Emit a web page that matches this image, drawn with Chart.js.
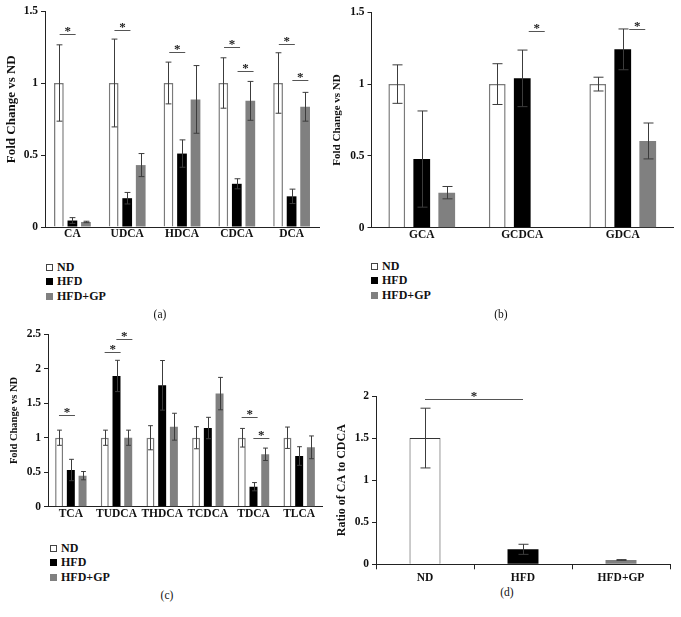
<!DOCTYPE html>
<html>
<head>
<meta charset="utf-8">
<script src="https://cdn.jsdelivr.net/npm/chart.js@4.4.0/dist/chart.umd.min.js"></script>
<style>
  body { margin:0; background:#fff; width:681px; height:617px; position:relative; overflow:hidden;
         font-family:"Liberation Serif","Times New Roman",serif; color:#111; }
  canvas { position:absolute; }
  .leg { position:absolute; font-weight:bold; font-size:12px; line-height:14.4px; }
  .leg div { white-space:nowrap; height:14.4px; }
  .sw { display:inline-block; width:7px; height:7px; box-sizing:border-box; margin-right:4px; vertical-align:0; }
  .cap { position:absolute; font-size:11.5px; transform:translate(-50%,-50%); }
</style>
</head>
<body>
<canvas id="chartA" width="330" height="246" style="left:0;top:0"></canvas>
<canvas id="chartB" width="354" height="247" style="left:327px;top:0"></canvas>
<canvas id="chartC" width="326" height="205" style="left:4px;top:320px"></canvas>
<canvas id="chartD" width="350" height="205" style="left:331px;top:380px"></canvas>

<div class="leg" id="legA" style="left:46px;top:260px"></div>
<div class="leg" id="legB" style="left:371px;top:259px"></div>
<div class="leg" id="legC" style="left:50px;top:541px"></div>
<div class="cap" style="left:160px;top:314px">(a)</div>
<div class="cap" style="left:501px;top:314px">(b)</div>
<div class="cap" style="left:167px;top:595px">(c)</div>
<div class="cap" style="left:507px;top:592px">(d)</div>

<script>
// groups
const groups = ['ND', 'HFD', 'HFD+GP'];
const groupColors = ['#ffffff', '#000000', '#808080'];

// (a) unconjugated bile acids
const catsA = ['CA', 'UDCA', 'HDCA', 'CDCA', 'DCA'];
const ndA = [1, 1, 1, 1, 1];
const ndErrA = [0.265, 0.305, 0.145, 0.175, 0.21];
const hfdA = [0.045, 0.2, 0.51, 0.3, 0.213];
const hfdErrA = [0.02, 0.04, 0.095, 0.035, 0.05];
const gpA = [0.035, 0.43, 0.886, 0.876, 0.835];
const gpErrA = [0.005, 0.08, 0.235, 0.135, 0.1];
// [category, from group, to group, level]
const sigA = [[0, 0, 1, 1.338], [1, 0, 1, 1.368], [2, 0, 1, 1.213], [3, 0, 1, 1.247], [3, 1, 2, 1.085], [4, 0, 1, 1.273], [4, 1, 2, 1.02]];

// (b) glycine conjugates
const catsB = ['GCA', 'GCDCA', 'GDCA'];
const ndB = [1, 1, 1];
const ndErrB = [0.134, 0.142, 0.048];
const hfdB = [0.478, 1.04, 1.242];
const hfdErrB = [0.335, 0.197, 0.142];
const gpB = [0.244, null, 0.604];
const gpErrB = [0.043, 0, 0.125];
const sigB = [[1, 1, 2, 1.37], [2, 1, 2, 1.385]];

// (c) taurine conjugates
const catsC = ['TCA', 'TUDCA', 'THDCA', 'TCDCA', 'TDCA', 'TLCA'];
const ndC = [1, 1, 1, 1, 1, 1];
const ndErrC = [0.11, 0.11, 0.175, 0.16, 0.135, 0.155];
const hfdC = [0.532, 1.896, 1.76, 1.141, 0.29, 0.735];
const hfdErrC = [0.155, 0.227, 0.36, 0.155, 0.06, 0.135];
const gpC = [0.45, 1.0, 1.16, 1.64, 0.76, 0.861];
const gpErrC = [0.06, 0.11, 0.195, 0.235, 0.09, 0.165];
const sigC = [[0, 0, 1, 1.335], [1, 0, 1, 2.239], [1, 1, 2, 2.427], [4, 0, 1, 1.296], [4, 1, 2, 0.991]];

// (d) CA / CDCA ratio
const catsD = ['ND', 'HFD', 'HFD+GP'];
const ratioD = [1.5, 0.178, 0.051];
const ratioErrD = [0.355, 0.06, 0.005];
// [from category, to category, level]
const sigD = [[0, 1, 1.964]];

const FONT = '"Liberation Serif", "Times New Roman", serif';
Chart.defaults.font.family = FONT;
Chart.defaults.color = '#111';
Chart.defaults.animation = false;

const errorBars = {
  id: 'errorBars',
  afterDatasetsDraw(chart) {
    const ctx = chart.ctx, y = chart.scales.y;
    ctx.save();
    ctx.strokeStyle = '#3c3c3c';
    ctx.lineWidth = 1;
    chart.data.datasets.forEach((ds, i) => {
      chart.getDatasetMeta(i).data.forEach((bar, j) => {
        const v = ds.data[j], e = ds.errors ? ds.errors[j] : 0;
        if (v == null || !e) return;
        const x = Math.round(bar.x) + 0.5;
        const top = y.getPixelForValue(v + e), bot = y.getPixelForValue(v - e);
        const cap = Math.min(bar.width * 0.6, 10) / 2;
        ctx.beginPath();
        ctx.moveTo(x, top); ctx.lineTo(x, bot);
        ctx.moveTo(x - cap, top); ctx.lineTo(x + cap, top);
        ctx.moveTo(x - cap, bot); ctx.lineTo(x + cap, bot);
        ctx.stroke();
      });
    });
    ctx.restore();
  }
};

// significance bar + star; len = fixed line length, or null for full span
function sigPlugin(marks, resolve, len) {
  return {
    id: 'sig',
    afterDatasetsDraw(chart) {
      const ctx = chart.ctx, y = chart.scales.y;
      ctx.save();
      marks.forEach(m => {
        const [xa, xb, level] = resolve(chart, m);
        const yy = Math.round(y.getPixelForValue(level)) + 0.5;
        let x1 = xa, x2 = xb;
        if (len) { const c = (xa + xb) / 2 + 2; x1 = c - len / 2; x2 = c + len / 2; }
        ctx.strokeStyle = '#555';
        ctx.lineWidth = 1;
        ctx.beginPath(); ctx.moveTo(x1, yy); ctx.lineTo(x2, yy); ctx.stroke();
        ctx.fillStyle = '#222';
        ctx.font = 'bold 13px ' + FONT;
        ctx.textAlign = 'center';
        ctx.textBaseline = 'alphabetic';
        ctx.fillText('*', (x1 + x2) / 2, yy + 0.5);
      });
      ctx.restore();
    }
  };
}
const byGroup = (chart, m) => [chart.getDatasetMeta(m[1]).data[m[0]].x, chart.getDatasetMeta(m[2]).data[m[0]].x, m[3]];
const byCat = (chart, m) => [chart.getDatasetMeta(0).data[m[0]].x, chart.getDatasetMeta(0).data[m[1]].x, m[2]];

function scales(o) {
  return {
    x: {
      grid: { display: true, drawOnChartArea: false, drawTicks: !!o.xTicks, tickLength: 5, offset: true, color: '#222' },
      border: { color: '#222', width: 1 },
      ticks: { font: { size: 11.5, weight: 'bold' }, padding: o.xPad, maxRotation: 0, autoSkip: false },
      afterFit: s => { s.height = o.xH; }
    },
    y: {
      min: 0, max: o.max,
      ticks: { stepSize: 0.5, font: { size: 11.5, weight: 'bold' }, padding: 3, callback: v => String(+v.toFixed(1)) },
      grid: { drawOnChartArea: false, tickLength: 4, color: '#222' },
      border: { color: '#222', width: 1 },
      title: { display: true, text: o.title, font: { size: o.titleSize, weight: 'bold' }, padding: { top: 4, bottom: 0 } },
      afterFit: s => { s.width = o.yW; }
    }
  };
}

function groupChart(id, cats, series, errs, o, sig) {
  new Chart(document.getElementById(id), {
    type: 'bar',
    data: {
      labels: cats,
      datasets: series.map((d, i) => ({
        label: groups[i], data: d, errors: errs[i],
        backgroundColor: groupColors[i],
        borderColor: i === 0 ? '#7a7a7a' : groupColors[i],
        borderWidth: i === 0 ? 1.5 : 0,
        categoryPercentage: o.catPct, barPercentage: o.barPct
      }))
    },
    options: {
      responsive: false,
      layout: { padding: { top: o.padTop, right: o.padRight, left: 0, bottom: 0 } },
      plugins: { legend: { display: false }, tooltip: { enabled: false } },
      scales: scales(o)
    },
    plugins: [errorBars, sigPlugin(sig, byGroup, 16)]
  });
}

// leading no-break spaces nudge the rotated title of (a) upward, as in the source figure
groupChart('chartA', catsA, [ndA, hfdA, gpA], [ndErrA, hfdErrA, gpErrA],
  { max: 1.5, title: '\u00a0\u00a0\u00a0\u00a0\u00a0\u00a0Fold Change vs ND', titleSize: 13, yW: 45, xH: 19, xPad: 0, padTop: 11, padRight: 11, catPct: 0.74, barPct: 0.72 }, sigA);
groupChart('chartB', catsB, [ndB, hfdB, gpB], [ndErrB, hfdErrB, gpErrB],
  { max: 1.5, title: 'Fold Change vs ND', titleSize: 11, yW: 44.5, xH: 19.3, xPad: 0, padTop: 12.3, padRight: 8, catPct: 0.746, barPct: 0.67 }, sigB);
groupChart('chartC', catsC, [ndC, hfdC, gpC], [ndErrC, hfdErrC, gpErrC],
  { max: 2.5, title: 'Fold Change vs ND', titleSize: 10.5, yW: 44, xH: 18.3, xPad: 0, padTop: 14.3, padRight: 8, catPct: 0.77, barPct: 0.68 }, sigC);

new Chart(document.getElementById('chartD'), {
  type: 'bar',
  data: {
    labels: catsD,
    datasets: [{
      data: ratioD, errors: ratioErrD,
      backgroundColor: groupColors,
      borderColor: ['#333', '#000', '#808080'],
      borderWidth: [1, 0, 0],
      categoryPercentage: 1, barPercentage: 0.316
    }]
  },
  options: {
    responsive: false,
    layout: { padding: { top: 16, right: 11, left: 0, bottom: 0 } },
    plugins: { legend: { display: false }, tooltip: { enabled: false } },
    scales: scales({ max: 2, title: 'Ratio of CA to CDCA', titleSize: 12, yW: 45, xH: 20.7, xPad: 2, xTicks: true })
  },
  plugins: [errorBars, sigPlugin(sigD, byCat, null)]
});

// legends
['legA', 'legB', 'legC'].forEach(id => {
  const el = document.getElementById(id);
  groups.forEach((g, i) => {
    const row = document.createElement('div');
    const sw = document.createElement('span');
    sw.className = 'sw';
    sw.style.background = groupColors[i];
    sw.style.border = i === 0 ? '1px solid #444' : 'none';
    row.appendChild(sw);
    row.appendChild(document.createTextNode(g));
    el.appendChild(row);
  });
});
</script>
</body>
</html>
